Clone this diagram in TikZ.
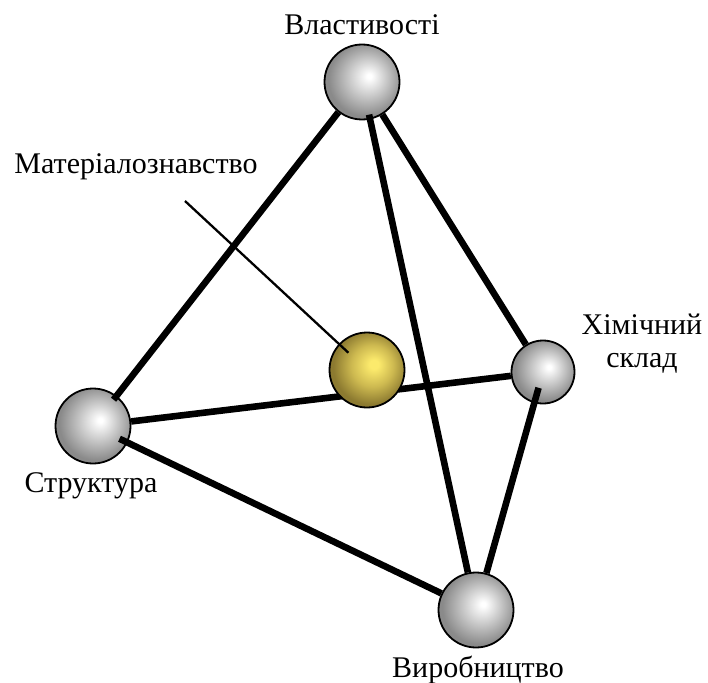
\documentclass[tikz,border=0pt]{standalone}
\usepackage{fontspec}
\setmainfont{Liberation Serif}
\definecolor{goldlight}{RGB}{252,234,108}
\definecolor{goldmid}{RGB}{205,185,80}
\definecolor{golddark}{RGB}{140,122,48}
\pgfdeclareradialshading{greyball}{\pgfpoint{5bp}{4bp}}{color(0bp)=(white); color(1.5bp)=(white); color(25bp)=(black!46); color(50bp)=(black!46)}
\pgfdeclareradialshading{goldball}{\pgfpoint{5bp}{4bp}}{color(0bp)=(goldlight); color(3bp)=(goldlight); color(14bp)=(goldmid); color(25bp)=(golddark); color(50bp)=(golddark)}
\begin{document}
\begin{tikzpicture}[x=1pt,y=-1pt]
  % Styles
  \tikzstyle{edge}=[line width=6.6pt]
  \tikzstyle{pointer}=[line width=2.3pt]
  \tikzstyle{ball}=[circle,draw,line width=1.8pt,inner sep=0pt,minimum size=75pt,shading=greyball]
  \tikzstyle{word}=[anchor=base,inner sep=0pt,font=\fontsize{30}{33}\selectfont]

  \useasboundingbox (0,0) rectangle (708,682);

  % The balls
  \node[ball] (vla) at (362,82) {};
  \node[ball] (str) at (93,426) {};
  \node[ball,minimum size=63pt] (him) at (543,372) {};
  \node[ball] (vir) at (476,610) {};

  \draw[style=edge] (str) -- (him);

  \node[ball,shading=goldball] (mat) at (367,370) {};

  % The edges
  \draw[style=edge,shorten <=-5pt] (str) -- (vla);
  \draw[style=edge,shorten <=-5pt] (vla) -- (vir);
  \draw[style=edge] (vla) -- (him);
  \draw[style=edge,shorten <=-9pt] (str) -- (vir);
  \draw[style=edge,shorten <=-16pt] (him) -- (vir);

  % Texts
  \node[style=word] (tvla) at (362,35) {Властивості};
  \node[style=word] (tmat) at (136,173) {Матеріалознавство};
  \node[style=word,align=center] (thim) at (642,367) {Хімічний\\склад};
  \node[style=word] (tstr) at (91,492) {Структура};
  \node[style=word] (tvir) at (478,677) {Виробництво};

  \coordinate (p) at (185,201);
  \draw[style=pointer,shorten >=-13pt] (p) -- (mat);
\end{tikzpicture}
\end{document}
